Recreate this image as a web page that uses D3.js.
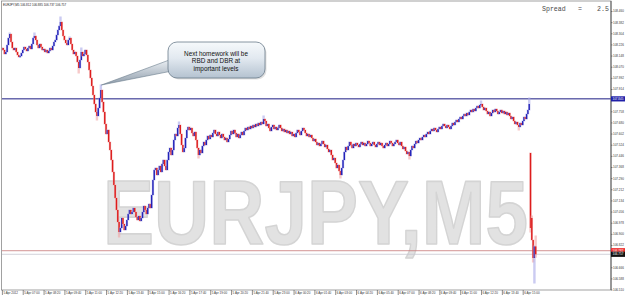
<!DOCTYPE html>
<html>
<head>
<meta charset="utf-8">
<script src="https://cdnjs.cloudflare.com/ajax/libs/d3/7.8.5/d3.min.js"></script>
<style>
body { margin: 0; background: #fff; }
svg { display: block; font-family: "Liberation Sans", Arial, sans-serif; }
</style>
</head>
<body>
<svg width="625" height="297"></svg>
<script>
// ---- data ----
const symbol = "EURJPY,M5";
const firstBar = "2012-04-05T05:40:00Z";
const barMinutes = 5;

// M5 closes, 5 Apr 05:40 .. 6 Apr 15:50
const closes = [
  108.201,108.187,108.159,108.173,108.222,108.271,108.299,108.243,108.201,108.187,
  108.201,108.173,108.152,108.138,108.145,108.166,108.187,108.208,108.194,108.180,
  108.201,108.215,108.194,108.229,108.271,108.285,108.257,108.222,108.201,108.229,
  108.208,108.187,108.194,108.173,108.187,108.166,108.180,108.201,108.187,108.215,
  108.243,108.257,108.292,108.327,108.355,108.383,108.327,108.285,108.257,108.236,
  108.222,108.257,108.271,108.229,108.187,108.159,108.173,108.145,108.103,108.061,
  108.117,108.173,108.145,108.159,108.187,108.152,108.103,108.047,107.991,107.935,
  107.872,107.809,107.753,107.725,107.781,107.851,107.907,107.823,107.753,107.669,
  107.599,107.627,107.543,107.487,107.417,107.333,107.242,107.151,107.067,106.983,
  106.913,106.941,107.011,106.969,106.927,106.955,106.997,107.039,107.067,107.039,
  107.053,107.081,107.053,107.018,106.997,107.025,106.990,107.011,107.053,107.095,
  107.067,107.039,107.081,107.109,107.081,107.172,107.277,107.347,107.361,107.312,
  107.347,107.375,107.333,107.389,107.417,107.375,107.347,107.417,107.473,107.501,
  107.452,107.487,107.557,107.599,107.585,107.641,107.662,107.599,107.522,107.473,
  107.501,107.571,107.627,107.648,107.627,107.641,107.606,107.585,107.613,107.557,
  107.501,107.452,107.487,107.466,107.515,107.543,107.522,107.557,107.585,107.564,
  107.592,107.578,107.606,107.627,107.599,107.585,107.613,107.592,107.571,107.599,
  107.578,107.557,107.571,107.543,107.564,107.592,107.620,107.599,107.627,107.606,
  107.578,107.599,107.571,107.592,107.613,107.592,107.620,107.641,107.627,107.648,
  107.634,107.655,107.641,107.662,107.648,107.669,107.655,107.676,107.662,107.683,
  107.669,107.704,107.690,107.655,107.669,107.641,107.620,107.648,107.662,107.634,
  107.648,107.627,107.641,107.662,107.641,107.620,107.634,107.613,107.627,107.606,
  107.620,107.599,107.613,107.585,107.599,107.578,107.606,107.627,107.613,107.592,
  107.620,107.641,107.627,107.606,107.585,107.599,107.578,107.592,107.571,107.550,
  107.564,107.543,107.522,107.536,107.515,107.529,107.550,107.529,107.508,107.522,
  107.494,107.473,107.487,107.452,107.417,107.431,107.396,107.361,107.382,107.340,
  107.312,107.361,107.417,107.473,107.508,107.487,107.515,107.543,107.522,107.501,
  107.529,107.515,107.536,107.522,107.508,107.529,107.543,107.522,107.536,107.515,
  107.529,107.550,107.536,107.515,107.529,107.543,107.522,107.508,107.529,107.543,
  107.522,107.536,107.515,107.501,107.522,107.536,107.515,107.529,107.550,107.536,
  107.515,107.529,107.543,107.557,107.536,107.522,107.543,107.515,107.494,107.508,
  107.480,107.459,107.473,107.445,107.487,107.515,107.501,107.529,107.550,107.536,
  107.557,107.571,107.557,107.578,107.592,107.578,107.599,107.613,107.599,107.620,
  107.634,107.620,107.641,107.627,107.613,107.634,107.648,107.634,107.655,107.669,
  107.655,107.641,107.662,107.648,107.634,107.655,107.676,107.662,107.683,107.697,
  107.683,107.704,107.718,107.704,107.725,107.739,107.725,107.746,107.732,107.753,
  107.767,107.753,107.774,107.760,107.781,107.795,107.781,107.802,107.809,107.788,
  107.767,107.781,107.760,107.739,107.753,107.725,107.746,107.767,107.753,107.774,
  107.760,107.739,107.753,107.767,107.746,107.760,107.739,107.753,107.732,107.746,
  107.725,107.704,107.718,107.690,107.669,107.683,107.662,107.648,107.676,107.662,
  107.690,107.718,107.704,107.739,107.767,107.809,106.941,106.857,106.731,106.812,
  106.757
];
// opens that differ from the previous close: [bar, open]
const openGaps = [[0,108.187],[406,107.466],[407,107.011]];
// visible wicks: [bar, price]
const wickHighs = [[6,108.306],[25,108.306],[45,108.418],[52,108.278],[61,108.201],
  [76,107.942],[136,107.683],[201,107.725],[368,107.830],[405,107.851],[407,107.025],
  [409,106.815],[410,106.885]];
const wickLows = [[59,108.026],[73,107.697],[90,106.878],[151,107.431],[260,107.291],
  [313,107.424],[397,107.627],[406,106.913],[408,106.703],[409,106.556],[410,106.737]];

const levelLine = 107.845;
const spreadPips = 2.5;

const priceTicks = [108.460,108.382,108.304,108.226,108.148,108.070,107.992,107.914,
  107.836,107.758,107.680,107.602,107.524,107.446,107.368,107.290,107.212,107.134,
  107.056,106.978,106.900,106.822,106.744,106.666,106.588,106.510];

const timeTicks = ["2012-04-05T05:40:00Z","2012-04-05T07:00:00Z","2012-04-05T08:20:00Z",
  "2012-04-05T09:40:00Z","2012-04-05T11:00:00Z","2012-04-05T12:20:00Z","2012-04-05T13:40:00Z",
  "2012-04-05T15:00:00Z","2012-04-05T16:20:00Z","2012-04-05T17:40:00Z","2012-04-05T19:00:00Z",
  "2012-04-05T20:20:00Z","2012-04-05T21:40:00Z","2012-04-05T23:00:00Z","2012-04-06T00:20:00Z",
  "2012-04-06T01:40:00Z","2012-04-06T03:00:00Z","2012-04-06T04:20:00Z","2012-04-06T05:40:00Z",
  "2012-04-06T07:00:00Z","2012-04-06T08:20:00Z","2012-04-06T09:40:00Z","2012-04-06T11:00:00Z",
  "2012-04-06T12:20:00Z","2012-04-06T13:40:00Z","2012-04-06T15:00:00Z"];

const calloutLines = ["Next homework will be", "RBD and DBR at", "important levels"];

// ---- build bars ----
const t0 = new Date(firstBar);
const gapMap = new Map(openGaps), hiMap = new Map(wickHighs), loMap = new Map(wickLows);
const bars = closes.map(function(c, i) {
  const o = gapMap.has(i) ? gapMap.get(i) : closes[i - 1];
  return {
    t: new Date(+t0 + i * barMinutes * 60000),
    o: o, c: c,
    h: hiMap.has(i) ? hiMap.get(i) : Math.max(o, c),
    l: loMap.has(i) ? loMap.get(i) : Math.min(o, c)
  };
});
const last = bars[bars.length - 1];
const ask = last.c + spreadPips / 100;

// ---- layout ----
const plotL = 2, plotT = 1, plotR = 611, plotB = 290;
const pxPerBar = 1.302;
const x = d3.scaleTime()
  .domain([t0, new Date(+t0 + (plotR - 1.9) / pxPerBar * barMinutes * 60000)])
  .range([1.9, plotR]);
const y = d3.scaleLinear().domain([108.537, 106.507]).range([0, 290]);

const svg = d3.select("svg");
svg.append("rect").attr("width", 625).attr("height", 297).attr("fill", "#fff");

const defs = svg.append("defs");
defs.append("clipPath").attr("id", "plot").append("rect")
  .attr("x", plotL).attr("y", plotT).attr("width", plotR - plotL).attr("height", plotB - plotT);
const cg = defs.append("linearGradient").attr("id", "boxg").attr("x1", 0).attr("y1", 0).attr("x2", 0).attr("y2", 1);
cg.append("stop").attr("offset", "0%").attr("stop-color", "#f6f9fb");
cg.append("stop").attr("offset", "45%").attr("stop-color", "#e2e9f0");
cg.append("stop").attr("offset", "100%").attr("stop-color", "#b4c2d0");
const tg = defs.append("linearGradient").attr("id", "tailg").attr("x1", 0).attr("y1", 0).attr("x2", 0).attr("y2", 1);
tg.append("stop").attr("offset", "0%").attr("stop-color", "#eef2f6");
tg.append("stop").attr("offset", "100%").attr("stop-color", "#8e9caa");

const plot = svg.append("g").attr("clip-path", "url(#plot)");

// watermark
plot.append("text")
  .attr("x", 103).attr("y", 244)
  .attr("font-size", 90).attr("font-weight", "bold")
  .attr("textLength", 425).attr("lengthAdjust", "spacingAndGlyphs")
  .attr("fill", "#e2e2e2").attr("stroke", "#d4d4d4").attr("stroke-width", 1.6)
  .attr("stroke-linejoin", "round")
  .text(symbol);

// horizontal level, bid and ask lines
plot.append("line").attr("x1", plotL).attr("x2", plotR)
  .attr("y1", y(levelLine)).attr("y2", y(levelLine))
  .attr("stroke", "#1c1c84").attr("stroke-width", 1);
plot.append("line").attr("x1", plotL).attr("x2", plotR)
  .attr("y1", y(ask)).attr("y2", y(ask))
  .attr("stroke", "#c87878").attr("stroke-width", 0.8);
plot.append("line").attr("x1", plotL).attr("x2", plotR)
  .attr("y1", y(last.c)).attr("y2", y(last.c))
  .attr("stroke", "#c8c8d0").attr("stroke-width", 0.8);

// candles
const up = "#2222b8", down = "#dd1c1c";
const cndl = plot.append("g").selectAll("g").data(bars).join("g");
cndl.append("rect")
  .attr("x", function(d) { return x(d.t) - 1.2; })
  .attr("width", 2.4)
  .attr("y", function(d) { return y(d.h) - 0.5; })
  .attr("height", function(d) { return Math.max(y(d.l) - y(d.h), 1) + 1; })
  .attr("fill", function(d) { return d.c >= d.o ? "#a9a9ea" : "#f2a6a6"; })
  .attr("opacity", 0.6);
cndl.append("rect")
  .attr("x", function(d) { return x(d.t) - 0.7; })
  .attr("width", 1.4)
  .attr("y", function(d) { return y(Math.max(d.o, d.c)); })
  .attr("height", function(d) { return Math.max(Math.abs(y(d.o) - y(d.c)), 1.2); })
  .attr("fill", function(d) { return d.c >= d.o ? up : down; });

// callout
const co = svg.append("g");
co.append("rect").attr("x", 169.5).attr("y", 43.5).attr("width", 97).attr("height", 36)
  .attr("rx", 9).attr("fill", "#000").attr("opacity", 0.12);
co.append("polygon")
  .attr("points", [[172, 59], [172, 71], [x(bars[76].t) + 0.5, y(bars[76].h)]].join(" "))
  .attr("fill", "url(#tailg)").attr("stroke", "#6c7d8d").attr("stroke-width", 0.6);
co.append("rect").attr("x", 168).attr("y", 42).attr("width", 97).attr("height", 36)
  .attr("rx", 9).attr("fill", "url(#boxg)").attr("stroke", "#6b7c8c").attr("stroke-width", 0.8);
co.selectAll("text.c").data(calloutLines).join("text")
  .attr("x", 216).attr("y", function(d, i) { return 55.5 + i * 7.5; })
  .attr("text-anchor", "middle").attr("font-size", 6.4).attr("fill", "#111")
  .text(function(d) { return d; });

// frame
svg.append("rect").attr("x", 1.5).attr("y", 1).attr("width", plotR - 1.5).attr("height", plotB - 1)
  .attr("fill", "none").attr("stroke", "#8a8a8a").attr("stroke-width", 0.8);
svg.append("line").attr("x1", plotR).attr("x2", plotR).attr("y1", 1).attr("y2", plotB)
  .attr("stroke", "#444").attr("stroke-width", 0.8);

// price axis
const boxYs = [y(levelLine), y(ask), y(last.c)];
const yAxis = d3.axisRight(y)
  .tickValues(priceTicks.filter(function(p) { return boxYs.every(function(b) { return Math.abs(y(p) - b) > 4; }); }))
  .tickFormat(d3.format(".3f")).tickSize(1.5).tickPadding(0.5);
const ya = svg.append("g").attr("transform", "translate(" + plotR + ",0)").call(yAxis);
ya.select(".domain").remove();
ya.selectAll("line").attr("stroke", "#444").attr("stroke-width", 0.6);
ya.selectAll("text").attr("font-size", 3).attr("fill", "#333").attr("font-family", "Liberation Sans, Arial");

// time axis
const fmtFirst = d3.utcFormat("%-d %b %Y"), fmt = d3.utcFormat("%-d %b %H:%M");
const times = timeTicks.map(function(s) { return new Date(s); });
const xAxis = d3.axisBottom(x).tickValues(times)
  .tickFormat(function(d, i) { return i === 0 ? fmtFirst(d) : fmt(d); })
  .tickSize(5).tickPadding(0);
const xa = svg.append("g").attr("transform", "translate(0," + plotB + ")").call(xAxis);
xa.select(".domain").remove();
xa.selectAll("line").attr("stroke", "#444").attr("stroke-width", 0.6);
xa.selectAll("text").attr("font-size", 3).attr("fill", "#333").attr("font-family", "Liberation Sans, Arial")
  .attr("text-anchor", "start").attr("x", 1).attr("y", 2).attr("dy", "0.71em");

// price boxes
function priceBox(p, bg, fg) {
  const g = svg.append("g");
  g.append("rect").attr("x", plotR).attr("y", y(p) - 2.6).attr("width", 14).attr("height", 5.2).attr("fill", bg);
  g.append("text").attr("x", plotR + 1.5).attr("y", y(p) + 1.1).attr("font-size", 3).attr("fill", fg)
    .text(d3.format(".3f")(p));
}
priceBox(levelLine, "#2020a8", "#fff");
priceBox(ask, "#ee3030", "#fff");
priceBox(last.c, "#111", "#fff");

// title and spread
const f3 = d3.format(".3f");
svg.append("text").attr("x", 3).attr("y", 5.6).attr("font-size", 3).attr("fill", "#222")
  .text(symbol + "  " + [last.o, last.h, last.l, last.c].map(f3).join(" "));
const sp = svg.append("g").attr("font-family", "Liberation Mono, Courier New, monospace")
  .attr("font-size", 6.6).attr("fill", "#4a4a4a");
sp.append("text").attr("x", 542).attr("y", 10.5).text("Spread");
sp.append("text").attr("x", 578).attr("y", 10.5).text("=");
sp.append("text").attr("x", 597).attr("y", 10.5).text(String(spreadPips));
</script>
</body>
</html>
